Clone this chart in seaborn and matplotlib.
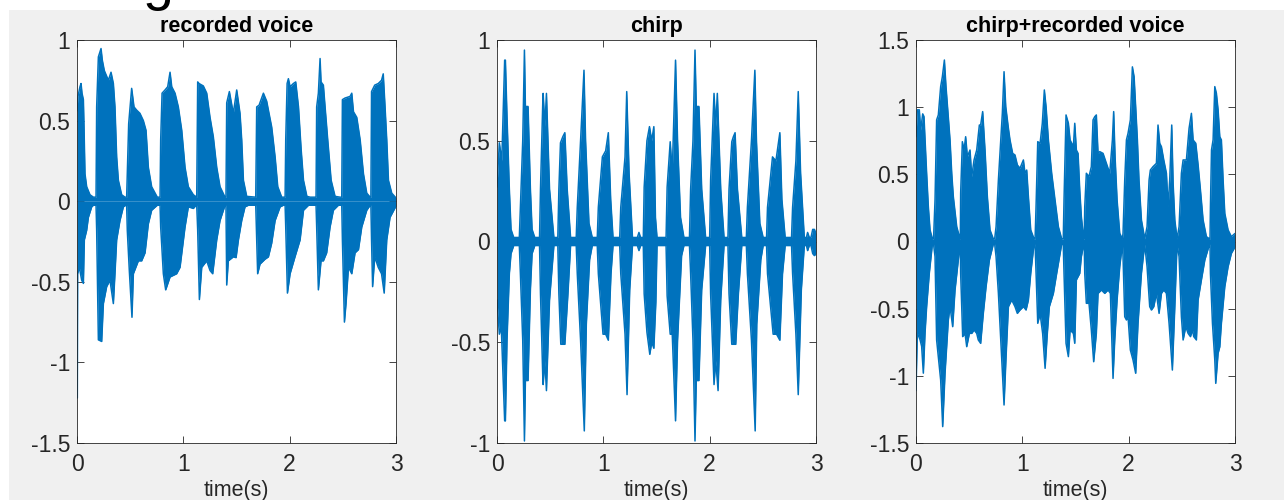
import matplotlib
matplotlib.use("Agg")
import matplotlib.pyplot as plt
import seaborn as sns
from matplotlib.patches import Rectangle

# envelope values (time in s, amplitude)
voice_t_up = [0, 0.009, 0.028, 0.038, 0.047, 0.06, 0.066, 0.075, 0.091, 0.122, 0.154,
              0.179, 0.185, 0.201, 0.226, 0.238, 0.257, 0.295, 0.32, 0.342, 0.357, 0.373, 0.389, 0.42, 0.451,
              0.467, 0.473, 0.486, 0.514, 0.536, 0.561, 0.592, 0.624, 0.649, 0.671, 0.702, 0.755,
              0.781, 0.787, 0.80, 0.828, 0.853, 0.875, 0.891, 0.922, 0.953, 0.985, 1.016, 1.047, 1.094,
              1.126, 1.135, 1.148, 1.188, 1.22, 1.251, 1.282, 1.314, 1.345, 1.392,
              1.401, 1.408, 1.433, 1.47, 1.502, 1.533, 1.549, 1.565, 1.596,
              1.681, 1.69, 1.712, 1.753, 1.784, 1.80, 1.831, 1.863, 1.888, 1.925,
              1.957, 1.963, 1.976, 1.988, 2.004, 2.035, 2.057, 2.083, 2.108, 2.13, 2.162, 2.193,
              2.248, 2.254, 2.27, 2.286, 2.295, 2.317, 2.333, 2.358, 2.39, 2.427, 2.474,
              2.49, 2.496, 2.521, 2.568, 2.584, 2.6, 2.631, 2.663, 2.694, 2.725, 2.757,
              2.764, 2.77, 2.80, 2.833, 2.864, 2.88, 2.897, 2.913, 2.929, 2.96, 3.0]
voice_up = [0.56, 0.65, 0.71, 0.73, 0.67, 0.63, 0.46, 0.17, 0.09, 0.04, 0.025,
            0.025, 0.585, 0.895, 0.947, 0.875, 0.81, 0.75, 0.80, 0.73, 0.585, 0.275, 0.13, 0.04, 0.025,
            0.025, 0.17, 0.48, 0.70, 0.585, 0.565, 0.545, 0.50, 0.44, 0.21, 0.09, 0.025,
            0.025, 0.38, 0.67, 0.69, 0.71, 0.80, 0.71, 0.67, 0.585, 0.44, 0.21, 0.09, 0.04,
            0.025, 0.74, 0.73, 0.715, 0.67, 0.52, 0.40, 0.21, 0.09, 0.025,
            0.025, 0.61, 0.68, 0.545, 0.69, 0.545, 0.38, 0.13, 0.03,
            0.025, 0.585, 0.595, 0.67, 0.62, 0.565, 0.46, 0.275, 0.09, 0.025,
            0.025, 0.38, 0.73, 0.76, 0.71, 0.73, 0.74, 0.585, 0.32, 0.13, 0.03, 0.025,
            0.025, 0.585, 0.67, 0.885, 0.74, 0.72, 0.585, 0.38, 0.13, 0.03, 0.025,
            0.025, 0.63, 0.64, 0.65, 0.67, 0.555, 0.52, 0.38, 0.17, 0.05, 0.025,
            0.025, 0.68, 0.72, 0.73, 0.75, 0.79, 0.585, 0.38, 0.13, 0.05, 0.02]
voice_t_lo = [0, 0.003, 0.006, 0.022, 0.044, 0.06, 0.069, 0.091, 0.107, 0.138, 0.154,
              0.179, 0.185, 0.201, 0.232, 0.248, 0.279, 0.31, 0.342, 0.357, 0.373, 0.404, 0.436, 0.458,
              0.467, 0.473, 0.492, 0.517, 0.53, 0.577, 0.608, 0.64, 0.671, 0.702, 0.755,
              0.781, 0.787, 0.812, 0.834, 0.875, 0.937, 0.969, 1.016, 1.047, 1.094, 1.12,
              1.126, 1.135, 1.151, 1.173, 1.22, 1.251, 1.276, 1.314, 1.345, 1.392,
              1.401, 1.408, 1.423, 1.47, 1.496, 1.518, 1.549, 1.58, 1.612,
              1.681, 1.69, 1.699, 1.721, 1.768, 1.80, 1.831, 1.863, 1.91, 1.941,
              1.957, 1.963, 1.979, 2.004, 2.05, 2.098, 2.13, 2.177,
              2.248, 2.254, 2.27, 2.295, 2.317, 2.348, 2.38, 2.411, 2.458,
              2.49, 2.496, 2.515, 2.53, 2.553, 2.584, 2.615, 2.647, 2.678, 2.725, 2.757,
              2.764, 2.77, 2.78, 2.80, 2.833, 2.864, 2.889, 2.913, 2.944, 3.0]
voice_lo = [-1.22, -1.22, -0.45, -0.41, -0.49, -0.51, -0.24, -0.18, -0.10, -0.035, -0.025,
            -0.025, -0.18, -0.86, -0.87, -0.635, -0.53, -0.49, -0.635, -0.45, -0.24, -0.12, -0.035, -0.025,
            -0.025, -0.18, -0.43, -0.72, -0.45, -0.37, -0.37, -0.32, -0.14, -0.056, -0.025,
            -0.025, -0.16, -0.45, -0.55, -0.47, -0.45, -0.41, -0.16, -0.035, -0.045, -0.025,
            -0.025, -0.18, -0.61, -0.41, -0.37, -0.43, -0.45, -0.24, -0.12, -0.025,
            -0.025, -0.52, -0.37, -0.345, -0.35, -0.24, -0.12, -0.035, -0.025,
            -0.025, -0.24, -0.45, -0.39, -0.36, -0.345, -0.26, -0.12, -0.035, -0.025,
            -0.025, -0.16, -0.57, -0.45, -0.345, -0.24, -0.056, -0.025,
            -0.025, -0.16, -0.55, -0.37, -0.37, -0.32, -0.16, -0.056, -0.025,
            -0.025, -0.24, -0.75, -0.635, -0.41, -0.45, -0.32, -0.30, -0.16, -0.056, -0.025,
            -0.025, -0.24, -0.53, -0.345, -0.41, -0.45, -0.57, -0.24, -0.10, -0.03]

chirp_t_up = [0, 0.022, 0.045, 0.072, 0.079, 0.094, 0.116, 0.132, 0.157,
              0.21, 0.22, 0.242, 0.258, 0.267, 0.292, 0.314, 0.33, 0.355,
              0.40, 0.409, 0.431, 0.434, 0.45, 0.465, 0.494, 0.535,
              0.572, 0.582, 0.597, 0.619, 0.638, 0.66, 0.692,
              0.745, 0.755, 0.786, 0.818, 0.833, 0.865, 0.896,
              0.943, 0.953, 0.991, 1.022, 1.047, 1.069, 1.091,
              1.154, 1.164, 1.204, 1.22, 1.242, 1.274, 1.32, 1.335, 1.35,
              1.376, 1.384, 1.41, 1.434, 1.455, 1.475, 1.49, 1.505,
              1.59, 1.60, 1.629, 1.648, 1.679, 1.698, 1.726, 1.758,
              1.81, 1.821, 1.843, 1.862, 1.874, 1.899, 1.925, 1.962,
              2.0, 2.009, 2.041, 2.057, 2.072, 2.104, 2.135,
              2.172, 2.182, 2.208, 2.223, 2.239, 2.261, 2.302,
              2.345, 2.355, 2.393, 2.425, 2.44, 2.472, 2.503,
              2.535, 2.544, 2.591, 2.623, 2.66, 2.679, 2.71,
              2.77, 2.78, 2.811, 2.833, 2.855, 2.89,
              2.91, 2.921, 2.937, 2.953, 2.969, 2.985, 3.0]
chirp_up = [0.27, 0.49, 0.40, 0.90, 0.90, 0.62, 0.26, 0.06, 0.02,
            0.02, 0.17, 0.50, 0.95, 0.67, 0.67, 0.26, 0.06, 0.02,
            0.02, 0.26, 0.70, 0.735, 0.57, 0.735, 0.26, 0.02,
            0.02, 0.26, 0.49, 0.52, 0.54, 0.26, 0.02,
            0.02, 0.17, 0.50, 0.85, 0.50, 0.09, 0.02,
            0.02, 0.17, 0.42, 0.45, 0.54, 0.21, 0.02,
            0.02, 0.17, 0.42, 0.744, 0.34, 0.02, 0.02, 0.045, 0.02,
            0.02, 0.27, 0.50, 0.57, 0.50, 0.57, 0.12, 0.02,
            0.02, 0.27, 0.495, 0.34, 0.90, 0.50, 0.12, 0.02,
            0.02, 0.26, 0.50, 0.95, 0.67, 0.67, 0.26, 0.02,
            0.02, 0.305, 0.735, 0.57, 0.735, 0.26, 0.02,
            0.02, 0.26, 0.495, 0.52, 0.54, 0.26, 0.02,
            0.02, 0.17, 0.50, 0.85, 0.50, 0.09, 0.02,
            0.02, 0.17, 0.42, 0.40, 0.54, 0.21, 0.02,
            0.02, 0.17, 0.40, 0.744, 0.34, 0.02,
            0.02, 0.045, 0.02, 0.02, 0.06, 0.06, 0.04]
chirp_t_lo = [0, 0.022, 0.04, 0.072, 0.079, 0.094, 0.116, 0.132, 0.157,
              0.21, 0.22, 0.242, 0.258, 0.267, 0.292, 0.314, 0.33, 0.355,
              0.40, 0.409, 0.431, 0.434, 0.45, 0.465, 0.494, 0.535,
              0.572, 0.582, 0.60, 0.619, 0.638, 0.667, 0.692,
              0.745, 0.755, 0.786, 0.821, 0.84, 0.871, 0.896,
              0.943, 0.953, 0.997, 1.022, 1.047, 1.072, 1.091,
              1.154, 1.164, 1.204, 1.223, 1.248, 1.274, 1.32, 1.335, 1.35,
              1.376, 1.384, 1.41, 1.437, 1.455, 1.475, 1.494, 1.505,
              1.59, 1.60, 1.629, 1.648, 1.679, 1.698, 1.736, 1.758,
              1.81, 1.821, 1.843, 1.862, 1.874, 1.899, 1.925, 1.962,
              2.0, 2.009, 2.041, 2.057, 2.079, 2.104, 2.135,
              2.172, 2.182, 2.208, 2.245, 2.27, 2.302,
              2.345, 2.355, 2.393, 2.428, 2.443, 2.481, 2.503,
              2.535, 2.544, 2.597, 2.629, 2.66, 2.685, 2.71,
              2.77, 2.78, 2.811, 2.833, 2.862, 2.89,
              2.91, 2.921, 2.937, 2.953, 2.969, 2.985, 3.0]
chirp_lo = [-0.29, -0.46, -0.42, -0.89, -0.89, -0.49, -0.16, -0.06, -0.02,
            -0.02, -0.16, -0.49, -0.99, -0.69, -0.69, -0.24, -0.06, -0.02,
            -0.02, -0.26, -0.68, -0.71, -0.59, -0.74, -0.29, -0.02,
            -0.02, -0.26, -0.51, -0.51, -0.51, -0.26, -0.02,
            -0.02, -0.16, -0.49, -0.94, -0.41, -0.09, -0.02,
            -0.02, -0.16, -0.46, -0.46, -0.49, -0.16, -0.02,
            -0.02, -0.16, -0.46, -0.76, -0.24, -0.02, -0.02, -0.045, -0.02,
            -0.02, -0.26, -0.45, -0.56, -0.50, -0.53, -0.30, -0.02,
            -0.02, -0.27, -0.46, -0.46, -0.89, -0.49, -0.07, -0.02,
            -0.02, -0.16, -0.49, -0.99, -0.69, -0.69, -0.24, -0.02,
            -0.02, -0.26, -0.71, -0.59, -0.74, -0.29, -0.02,
            -0.02, -0.26, -0.51, -0.51, -0.26, -0.02,
            -0.02, -0.16, -0.49, -0.94, -0.41, -0.09, -0.02,
            -0.02, -0.16, -0.46, -0.46, -0.49, -0.16, -0.02,
            -0.02, -0.16, -0.46, -0.76, -0.24, -0.02,
            -0.02, -0.045, -0.02, -0.02, -0.06, -0.07, -0.06]

mix_t_up = [0, 0.0125, 0.031, 0.044, 0.063, 0.075, 0.085, 0.10, 0.116, 0.132, 0.154,
            0.165, 0.179, 0.194, 0.21, 0.232, 0.248, 0.267, 0.282, 0.304, 0.32, 0.336, 0.351, 0.383, 0.414,
            0.417, 0.42, 0.436, 0.452, 0.467, 0.483, 0.508, 0.524, 0.546, 0.571, 0.596, 0.608, 0.627, 0.649,
            0.671, 0.696, 0.727,
            0.74, 0.753, 0.775, 0.797, 0.812, 0.828, 0.844, 0.869, 0.884, 0.909, 0.931, 0.953, 0.978, 1.01,
            1.025, 1.041, 1.057, 1.079, 1.11,
            1.12, 1.129, 1.145, 1.167, 1.188, 1.207, 1.223, 1.245, 1.276, 1.307, 1.339, 1.37,
            1.385, 1.392, 1.411, 1.433, 1.449, 1.48, 1.493, 1.508, 1.524, 1.54, 1.555, 1.577,
            1.582, 1.587, 1.602, 1.627, 1.649, 1.665, 1.681, 1.696, 1.712, 1.728, 1.759, 1.79, 1.822, 1.847,
            1.859, 1.872, 1.891, 1.916, 1.941,
            1.947, 1.963, 1.979, 1.994, 2.016, 2.035, 2.051, 2.066, 2.082, 2.097, 2.12, 2.151,
            2.173, 2.192, 2.204, 2.229, 2.261, 2.276, 2.292, 2.308, 2.33, 2.355, 2.371, 2.386, 2.405, 2.418,
            2.434, 2.455,
            2.474, 2.496, 2.512, 2.543, 2.568, 2.59, 2.606, 2.631, 2.653, 2.675, 2.7, 2.731, 2.76,
            2.765, 2.769, 2.779, 2.794, 2.81, 2.825, 2.841, 2.857, 2.872, 2.888, 2.904, 2.935, 2.966, 3.0]
mix_up = [0.78, 0.98, 0.98, 0.83, 0.95, 0.93, 0.756, 0.508, 0.259, 0.086, 0.02,
          0.02, 0.309, 0.905, 0.942, 1.153, 1.227, 1.351, 1.153, 0.929, 0.756, 0.508, 0.334, 0.11, 0.02,
          0.02, 0.359, 0.743, 0.681, 0.78, 0.632, 0.681, 0.483, 0.607, 0.681, 0.867, 0.867, 0.967, 0.681,
          0.334, 0.086, 0.02,
          0.02, 0.11, 0.458, 0.756, 0.954, 1.264, 1.004, 0.842, 0.756, 0.656, 0.644, 0.57, 0.545, 0.607,
          0.508, 0.532, 0.334, 0.086, 0.02,
          0.02, 0.259, 0.743, 0.731, 0.88, 1.128, 1.004, 0.756, 0.508, 0.309, 0.11, 0.02,
          0.02, 0.309, 0.942, 0.88, 0.756, 0.706, 0.88, 0.681, 0.656, 0.383, 0.185, 0.02,
          0.02, 0.259, 0.508, 0.483, 0.557, 0.905, 0.929, 0.942, 0.656, 0.669, 0.656, 0.582, 0.508, 0.756,
          0.967, 0.632, 0.309, 0.061, 0.02,
          0.061, 0.458, 0.756, 0.805, 0.905, 1.30, 1.227, 1.004, 0.756, 0.458, 0.16, 0.02,
          0.11, 0.458, 0.532, 0.557, 0.582, 0.867, 0.731, 0.706, 0.607, 0.508, 0.259, 0.458, 0.867, 0.433,
          0.16, 0.02,
          0.11, 0.508, 0.607, 0.607, 0.842, 0.954, 0.756, 0.731, 0.57, 0.383, 0.16, 0.036, 0.02,
          0.02, 0.259, 0.681, 0.756, 1.153, 1.103, 0.979, 0.78, 0.756, 0.458, 0.21, 0.086, 0.036, 0.06]
mix_t_lo = [0, 0.0125, 0.0376, 0.053, 0.069, 0.085, 0.10, 0.125, 0.154,
            0.165, 0.179, 0.194, 0.21, 0.232, 0.251, 0.273, 0.304, 0.32, 0.345, 0.367, 0.398, 0.414,
            0.417, 0.42, 0.439, 0.461, 0.477, 0.502, 0.524, 0.546, 0.571, 0.586, 0.608, 0.633, 0.659, 0.69, 0.727,
            0.74, 0.753, 0.775, 0.797, 0.828, 0.847, 0.869, 0.90, 0.931, 0.953, 0.978, 1.01, 1.035, 1.057,
            1.079, 1.11,
            1.12, 1.129, 1.145, 1.167, 1.191, 1.214, 1.235, 1.254, 1.292, 1.323, 1.37,
            1.385, 1.392, 1.411, 1.433, 1.449, 1.48, 1.493, 1.508, 1.54, 1.555, 1.577,
            1.582, 1.587, 1.602, 1.627, 1.649, 1.671, 1.696, 1.712, 1.744, 1.775, 1.806, 1.828, 1.853, 1.869,
            1.891, 1.916, 1.941,
            1.947, 1.963, 1.979, 1.994, 2.016, 2.041, 2.066, 2.088, 2.12, 2.151,
            2.173, 2.198, 2.214, 2.236, 2.261, 2.286, 2.308, 2.33, 2.355, 2.38, 2.411, 2.434, 2.455,
            2.474, 2.496, 2.512, 2.537, 2.559, 2.581, 2.60, 2.612, 2.637, 2.653, 2.684, 2.716, 2.76,
            2.765, 2.769, 2.788, 2.81, 2.819, 2.841, 2.857, 2.872, 2.904, 2.935, 2.966, 3.0]
mix_lo = [-1.11, -0.68, -0.73, -0.78, -0.98, -0.68, -0.485, -0.237, -0.02,
          -0.02, -0.113, -0.733, -0.857, -1.031, -1.378, -0.981, -0.584, -0.485, -0.634, -0.361, -0.138, -0.02,
          -0.02, -0.237, -0.708, -0.684, -0.783, -0.684, -0.684, -0.659, -0.684, -0.733, -0.758, -0.535,
          -0.336, -0.138, -0.02,
          -0.02, -0.113, -0.386, -0.733, -1.217, -0.857, -0.485, -0.435, -0.485, -0.535, -0.51, -0.485, -0.51,
          -0.435, -0.237, -0.02,
          -0.02, -0.237, -0.609, -0.535, -0.684, -0.944, -0.684, -0.485, -0.386, -0.237, -0.02,
          -0.02, -0.237, -0.758, -0.857, -0.659, -0.684, -0.758, -0.286, -0.237, -0.113, -0.02,
          -0.02, -0.237, -0.46, -0.46, -0.659, -0.895, -0.684, -0.386, -0.361, -0.386, -0.361, -0.386, -1.019,
          -0.733, -0.435, -0.187, -0.02,
          -0.113, -0.56, -0.584, -0.56, -0.808, -0.882, -0.981, -0.609, -0.237, -0.02,
          -0.187, -0.485, -0.51, -0.485, -0.386, -0.535, -0.386, -0.361, -0.386, -0.609, -0.957, -0.485, -0.02,
          -0.113, -0.56, -0.733, -0.634, -0.684, -0.708, -0.659, -0.708, -0.733, -0.435, -0.286, -0.138, -0.02,
          -0.02, -0.237, -0.609, -0.882, -1.056, -0.832, -0.783, -0.609, -0.336, -0.187, -0.088, -0.04]

titles = ["recorded voice", "chirp", "chirp+recorded voice"]
x_ticks = [0, 1, 2, 3]
y_ticks_voice = [-1.5, -1, -0.5, 0, 0.5, 1]
y_ticks_chirp = [-1, -0.5, 0, 0.5, 1]
y_ticks_mix = [-1.5, -1, -0.5, 0, 0.5, 1, 1.5]

BLUE = "#0072BD"
AXC = "#262626"

sns.set_theme(style="ticks")
plt.rcParams['font.family'] = ['Liberation Sans', 'DejaVu Sans']

W, H = 1284, 500
fig = plt.figure(figsize=(W / 100, H / 100), dpi=100, facecolor="#f0f0f0")
# white margins at top and left, like the cropped screenshot
fig.patches.append(Rectangle((0, 1 - 10 / H), 1, 10 / H, transform=fig.transFigure,
                             facecolor="white", edgecolor="none", zorder=0))
fig.patches.append(Rectangle((0, 0), 9 / W, 1, transform=fig.transFigure,
                             facecolor="white", edgecolor="none", zorder=0))
# only the descender of a heading above the crop is visible
fig.text(143 / W, 1 + 1 / H, "g", fontsize=40, va="baseline", ha="left", color="black")

panels = [
    (77, voice_t_up, voice_up, voice_t_lo, voice_lo, y_ticks_voice),
    (497, chirp_t_up, chirp_up, chirp_t_lo, chirp_lo, y_ticks_chirp),
    (916, mix_t_up, mix_up, mix_t_lo, mix_lo, y_ticks_mix),
]

for (left, t_up, up, t_lo, lo, yt), title in zip(panels, titles):
    ax = fig.add_axes([left / W, 57 / H, 319 / W, 403 / H])
    ax.set_facecolor("white")

    # waveform drawn as filled upper / lower envelope
    ax.fill_between(t_up, 0, up, color=BLUE, linewidth=0)
    ax.fill_between(t_lo, lo, 0, color=BLUE, linewidth=0)
    sns.lineplot(x=t_up, y=up, ax=ax, color=BLUE, linewidth=1.1, estimator=None, sort=False)
    sns.lineplot(x=t_lo, y=lo, ax=ax, color=BLUE, linewidth=1.1, estimator=None, sort=False)

    ax.set_xlim(0, 3)
    ax.set_ylim(yt[0], yt[-1])
    ax.set_xticks(x_ticks)
    ax.set_xticklabels([f"{v:g}" for v in x_ticks])
    ax.set_yticks(yt)
    ax.set_yticklabels([f"{v:g}" for v in yt])

    ax.tick_params(direction="in", length=5, width=0.6, color=AXC, top=True, right=True,
                   labelsize=16.5, labelcolor=AXC)
    ax.tick_params(axis="x", pad=7)
    ax.tick_params(axis="y", pad=5)
    for s in ax.spines.values():
        s.set_color(AXC)
        s.set_linewidth(0.6)

    ax.set_title(title, fontsize=15.5, fontweight="bold", color="black", pad=6)
    ax.set_xlabel("time(s)", fontsize=15.5, color=AXC, labelpad=3)
    ax.set_ylabel("")

fig.savefig("out.png", dpi=100, facecolor=fig.get_facecolor())
plt.close(fig)
